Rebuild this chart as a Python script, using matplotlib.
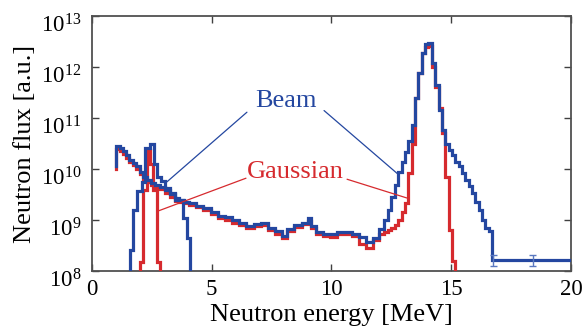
import numpy as np
import matplotlib
matplotlib.use("Agg")
import matplotlib.pyplot as plt
from matplotlib.ticker import FixedLocator, NullLocator, FixedFormatter
from matplotlib.transforms import ScaledTranslation

plt.rcParams['font.family'] = ['Liberation Serif', 'DejaVu Serif']
plt.rcParams['mathtext.fontset'] = 'custom'
plt.rcParams['mathtext.rm'] = 'Liberation Serif'
plt.rcParams['mathtext.it'] = 'Liberation Serif:italic'

# ---------------- data (energy in MeV, flux as log10 of a.u.) ----------------
cont_edges = [1.00, 1.17, 1.30, 1.42, 1.55, 1.70, 1.85, 2.00, 2.15, 2.30, 2.45, 2.65,
              2.85, 3.05, 3.25, 3.45, 3.65, 3.85, 4.05, 4.35, 4.65, 4.95, 5.25, 5.55,
              5.85, 6.15, 6.45, 6.75, 7.05, 7.35, 7.65, 7.95, 8.15, 8.45, 8.75, 9.00,
              9.15, 9.35, 9.65, 9.95, 10.25, 10.55, 10.85, 11.15, 11.45, 11.75, 12.00,
              12.20, 12.35, 12.50, 12.65, 12.79, 12.93, 13.07, 13.21, 13.35, 13.49,
              13.63, 13.77, 13.91, 14.05, 14.19, 14.33, 14.47, 14.61, 14.75, 14.89,
              15.03, 15.17, 15.31, 15.45, 15.59, 15.73, 15.87, 16.01, 16.15, 16.29,
              16.43, 16.57, 16.71, 20.00]

beam_log_flux = [10.45, 10.41, 10.35, 10.28, 10.18, 10.11, 10.05, 9.95, 9.85, 9.78,
                 9.72, 9.69, 9.65, 9.59, 9.52, 9.43, 9.39, 9.36, 9.33, 9.28, 9.24,
                 9.16, 9.07, 9.05, 9.00, 8.95, 8.88, 8.93, 8.95, 8.84, 8.78, 8.68,
                 8.82, 8.90, 8.95, 9.03, 8.88, 8.76, 8.72, 8.72, 8.76, 8.77, 8.72,
                 8.66, 8.57, 8.65, 8.82, 9.00, 9.20, 9.46, 9.69, 9.95, 10.14, 10.34,
                 10.54, 10.86, 11.39, 11.88, 12.27, 12.46, 12.47, 12.08, 11.65, 11.16,
                 10.76, 10.50, 10.37, 10.27, 10.14, 10.05, 9.92, 9.78, 9.66, 9.53,
                 9.36, 9.20, 9.00, 8.85, 8.78, 8.21]
beam_start_log = 10.05

gauss_log_flux = [10.40, 10.35, 10.30, 10.22, 10.14, 10.07, 10.00, 9.90, 9.80, 9.74,
                  9.68, 9.64, 9.60, 9.52, 9.46, 9.38, 9.35, 9.33, 9.30, 9.25, 9.20,
                  9.12, 9.04, 9.00, 8.95, 8.90, 8.84, 8.88, 8.90, 8.80, 8.72, 8.64,
                  8.78, 8.86, 8.92, 8.98, 8.84, 8.72, 8.68, 8.66, 8.72, 8.72, 8.68,
                  8.52, 8.45, 8.60, 8.72, 8.76, 8.80, 8.85, 8.90, 9.00, 9.16, 9.33,
                  9.92, 10.50, 11.40, 11.88, 12.27, 12.40, 12.42, 12.00, 11.60, 11.20,
                  10.70, 9.85, 8.80, 8.20]
gauss_start_log = 10.00

# D-D peak components
beam_dd_edges = [1.59, 1.73, 1.86, 2.07, 2.21, 2.42, 2.59, 2.71, 2.88, 3.05, 3.25,
                 3.45, 3.81, 3.95, 4.09]
beam_dd_log_flux = [8.41, 9.20, 9.56, 9.75, 10.41, 10.50, 10.10, 9.85, 9.76, 9.62,
                    9.50, 9.40, 9.03, 8.64]
gauss_dd_edges = [2.00, 2.14, 2.28, 2.42, 2.56, 2.71, 2.84]
gauss_dd_log_flux = [8.18, 9.59, 10.37, 10.10, 9.59, 8.18]

# error bars visible in the high-energy tail of the beam spectrum
tail_err_energy = [16.75, 18.40]
tail_err_log_lo = [8.10, 8.10]
tail_err_log_hi = [8.31, 8.31]

x_ticks = [0, 5, 10, 15, 20]
y_exponents = [8, 9, 10, 11, 12, 13]

BLUE = '#2447a0'
RED = '#d62a2e'
BOTTOM = 1e7  # below the axis, used to close the peak outlines


def step_xy(edges, log_vals, start=None, end=None):
    e = np.asarray(edges, float)
    v = 10.0 ** np.asarray(log_vals, float)
    xs = list(np.repeat(e, 2)[1:-1])
    ys = list(np.repeat(v, 2))
    if start is not None:
        xs = [e[0]] + xs
        ys = [start] + ys
    if end is not None:
        xs = xs + [xs[-1]]
        ys = ys + [end]
    return xs, ys


fig = plt.figure(figsize=(5.84, 3.27), dpi=100)
ax = fig.add_axes([0.1575, 0.1713, 0.8202, 0.7797])

lw = 2.3
n_red = len(gauss_log_flux)
x, y = step_xy(cont_edges[:n_red + 1], gauss_log_flux, start=10 ** gauss_start_log, end=BOTTOM)
ax.plot(x, y, color=RED, lw=lw, solid_joinstyle='miter', zorder=3)
x, y = step_xy(gauss_dd_edges, gauss_dd_log_flux, start=BOTTOM, end=BOTTOM)
ax.plot(x, y, color=RED, lw=lw, solid_joinstyle='miter', zorder=3)

x, y = step_xy(cont_edges, beam_log_flux, start=10 ** beam_start_log)
ax.plot(x, y, color=BLUE, lw=lw, solid_joinstyle='miter', zorder=4)
x, y = step_xy(beam_dd_edges, beam_dd_log_flux, start=BOTTOM, end=BOTTOM)
ax.plot(x, y, color=BLUE, lw=lw, solid_joinstyle='miter', zorder=4)

lo = 10.0 ** np.asarray(tail_err_log_lo)
hi = 10.0 ** np.asarray(tail_err_log_hi)
ax.vlines(tail_err_energy, lo, hi, color='#5a78c0', lw=1.0, zorder=5)
ax.hlines(lo, np.asarray(tail_err_energy) - 0.15, np.asarray(tail_err_energy) + 0.15,
          color='#5a78c0', lw=1.0, zorder=5)
ax.hlines(hi, np.asarray(tail_err_energy) - 0.15, np.asarray(tail_err_energy) + 0.15,
          color='#5a78c0', lw=1.0, zorder=5)

# annotations
ax.text(8.1, 2.2e11, 'Beam', color=BLUE, fontsize=19, ha='center', va='center', zorder=6)
ax.text(8.48, 8.7e9, 'Gaussian', color=RED, fontsize=19, ha='center', va='center', zorder=6)
for (x0, y0), (x1, y1), c in [((6.47, 1.3e11), (3.13, 5.6e9), BLUE),
                               ((9.69, 1.4e11), (12.78, 7.9e9), BLUE),
                               ((6.43, 6.6e9), (2.76, 1.5e9), RED),
                               ((10.65, 6.3e9), (13.15, 2.7e9), RED)]:
    ax.annotate('', xy=(x1, y1), xytext=(x0, y0),
                arrowprops=dict(arrowstyle='-', color=c, lw=0.9,
                                shrinkA=0, shrinkB=0), zorder=6)

ax.set_yscale('log')
ax.set_xlim(0, 20)
ax.set_ylim(1e8, 1e13)
ax.xaxis.set_major_locator(FixedLocator(x_ticks))
ax.set_xticklabels([str(t) for t in x_ticks])
ax.yaxis.set_major_locator(FixedLocator([10.0 ** k for k in y_exponents]))
ax.yaxis.set_major_formatter(FixedFormatter([r'$\mathdefault{10^{%d}}$' % k for k in y_exponents]))
ax.yaxis.set_minor_locator(NullLocator())
ax.xaxis.set_minor_locator(NullLocator())
ax.tick_params(direction='in', length=5, width=1.0, color='#404040',
               top=True, right=True, labelsize=16.5)
ax.tick_params(axis='x', pad=6)
ax.tick_params(axis='y', pad=7.5)
for s in ax.spines.values():
    s.set_color('#505050')
    s.set_linewidth(1.3)

ax.set_xlabel('Neutron energy [MeV]', fontsize=19, labelpad=2.5)
ax.set_ylabel('Neutron flux [a.u.]', fontsize=19, labelpad=4)

# tick labels sit a little below their ticks in the reference
shift = ScaledTranslation(0, -5 / 72, fig.dpi_scale_trans)
for lab in ax.get_yticklabels():
    lab.set_transform(lab.get_transform() + shift)

fig.savefig('out.png', dpi=100)
